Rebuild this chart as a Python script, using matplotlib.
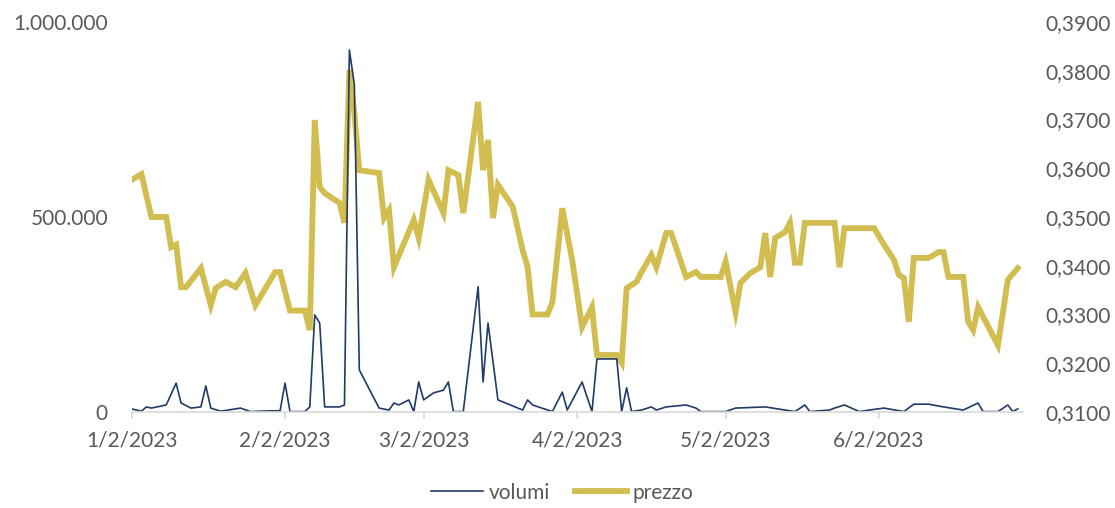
import pandas as pd
import matplotlib
matplotlib.use("Agg")
import matplotlib.pyplot as plt
from matplotlib.ticker import FuncFormatter, MultipleLocator

# -------------------------
# Data: daily price and traded volume (H1 2023)
# -------------------------
price_dates = [
    "2023-01-02", "2023-01-04", "2023-01-06", "2023-01-09", "2023-01-10", "2023-01-11",
    "2023-01-12", "2023-01-13", "2023-01-16", "2023-01-18", "2023-01-19", "2023-01-21",
    "2023-01-23", "2023-01-25", "2023-01-27", "2023-01-31", "2023-02-01", "2023-02-03",
    "2023-02-06", "2023-02-07", "2023-02-08", "2023-02-09", "2023-02-10", "2023-02-13",
    "2023-02-14", "2023-02-15", "2023-02-16", "2023-02-17", "2023-02-21", "2023-02-22",
    "2023-02-23", "2023-02-24", "2023-02-28", "2023-03-01", "2023-03-03", "2023-03-06",
    "2023-03-07", "2023-03-09", "2023-03-10", "2023-03-13", "2023-03-14", "2023-03-15",
    "2023-03-16", "2023-03-17", "2023-03-20", "2023-03-22", "2023-03-23", "2023-03-24",
    "2023-03-27", "2023-03-28", "2023-03-30", "2023-04-01", "2023-04-03", "2023-04-05",
    "2023-04-06", "2023-04-10", "2023-04-11", "2023-04-12", "2023-04-14", "2023-04-15",
    "2023-04-17", "2023-04-18", "2023-04-20", "2023-04-21", "2023-04-24", "2023-04-26",
    "2023-04-27", "2023-05-01", "2023-05-02", "2023-05-04", "2023-05-05", "2023-05-07",
    "2023-05-09", "2023-05-10", "2023-05-11", "2023-05-12", "2023-05-14", "2023-05-15",
    "2023-05-16", "2023-05-17", "2023-05-18", "2023-05-24", "2023-05-25", "2023-05-26",
    "2023-06-01", "2023-06-03", "2023-06-05", "2023-06-06", "2023-06-07", "2023-06-08",
    "2023-06-09", "2023-06-12", "2023-06-14", "2023-06-15", "2023-06-16", "2023-06-19",
    "2023-06-20", "2023-06-21", "2023-06-22", "2023-06-26", "2023-06-28", "2023-06-30",
]
prezzo = [
    0.3576, 0.3588, 0.3500, 0.3500, 0.3438, 0.3443,
    0.3356, 0.3356, 0.3395, 0.3319, 0.3354, 0.3367,
    0.3356, 0.3385, 0.3319, 0.3387, 0.3387, 0.3308,
    0.3308, 0.3268, 0.3699, 0.3562, 0.3549, 0.3529,
    0.3488, 0.3802, 0.3713, 0.3596, 0.3590, 0.3498,
    0.3514, 0.3397, 0.3494, 0.3457, 0.3576, 0.3508,
    0.3596, 0.3586, 0.3508, 0.3736, 0.3596, 0.3658,
    0.3498, 0.3566, 0.3521, 0.3432, 0.3397, 0.3300,
    0.3300, 0.3325, 0.3518, 0.3412, 0.3274, 0.3315,
    0.3217, 0.3217, 0.3201, 0.3354, 0.3367, 0.3387,
    0.3422, 0.3397, 0.3467, 0.3467, 0.3377, 0.3387,
    0.3377, 0.3377, 0.3408, 0.3305, 0.3365, 0.3385,
    0.3397, 0.3467, 0.3377, 0.3457, 0.3469, 0.3488,
    0.3406, 0.3406, 0.3488, 0.3488, 0.3397, 0.3477,
    0.3477, 0.3443, 0.3412, 0.3381, 0.3375, 0.3285,
    0.3416, 0.3416, 0.3428, 0.3428, 0.3377, 0.3377,
    0.3285, 0.3268, 0.3315, 0.3237, 0.3371, 0.3395,
]

volume_dates = [
    "2023-01-02", "2023-01-04", "2023-01-05", "2023-01-06", "2023-01-09", "2023-01-11",
    "2023-01-12", "2023-01-14", "2023-01-16", "2023-01-17", "2023-01-18", "2023-01-20",
    "2023-01-24", "2023-01-26", "2023-01-30", "2023-02-01", "2023-02-02", "2023-02-03",
    "2023-02-06", "2023-02-07", "2023-02-08", "2023-02-09", "2023-02-10", "2023-02-13",
    "2023-02-14", "2023-02-15", "2023-02-16", "2023-02-17", "2023-02-21", "2023-02-23",
    "2023-02-24", "2023-02-25", "2023-02-27", "2023-02-28", "2023-03-01", "2023-03-02",
    "2023-03-04", "2023-03-06", "2023-03-07", "2023-03-08", "2023-03-10", "2023-03-13",
    "2023-03-14", "2023-03-15", "2023-03-17", "2023-03-22", "2023-03-23", "2023-03-24",
    "2023-03-28", "2023-03-30", "2023-03-31", "2023-04-03", "2023-04-05", "2023-04-06",
    "2023-04-10", "2023-04-11", "2023-04-12", "2023-04-13", "2023-04-15", "2023-04-17",
    "2023-04-18", "2023-04-20", "2023-04-24", "2023-04-26", "2023-04-27", "2023-05-02",
    "2023-05-04", "2023-05-10", "2023-05-16", "2023-05-18", "2023-05-19", "2023-05-23",
    "2023-05-24", "2023-05-26", "2023-05-29", "2023-05-31", "2023-06-03", "2023-06-07",
    "2023-06-09", "2023-06-12", "2023-06-15", "2023-06-19", "2023-06-22", "2023-06-23",
    "2023-06-26", "2023-06-28", "2023-06-29", "2023-06-30",
]
volumi = [
    8000, 2000, 13000, 10000, 18000, 74000,
    23000, 10000, 13000, 67000, 10000, 2000,
    10000, 1000, 3000, 3000, 74000, 1000,
    1000, 13000, 249000, 228000, 13000, 13000,
    18000, 928000, 840000, 108000, 10000, 5000,
    23000, 18000, 31000, 1000, 77000, 31000,
    49000, 56000, 77000, 1000, 1000, 321000,
    77000, 228000, 31000, 5000, 31000, 18000,
    1000, 51000, 5000, 77000, 1000, 136000,
    136000, 1000, 62000, 1000, 5000, 13000,
    5000, 13000, 18000, 10000, 1000, 1000,
    10000, 13000, 1000, 18000, 1000, 5000,
    10000, 18000, 1000, 5000, 10000, 1000,
    20000, 20000, 13000, 5000, 23000, 1000,
    1000, 18000, 1000, 8000,
]

tick_dates = ["2023-01-02", "2023-02-02", "2023-03-02", "2023-04-02", "2023-05-02", "2023-06-02"]

# -------------------------
# Plot
# -------------------------
plt.rcParams['font.family'] = ['Lato', 'DejaVu Sans']
text_color = '#595959'
navy = '#1F3B66'
gold = '#D2BD50'

fig = plt.figure(figsize=(11.15, 5.08), dpi=100)
ax = fig.add_axes([0.118, 0.189, 0.7992, 0.7677])
ax2 = ax.twinx()

ax2.plot(pd.to_datetime(price_dates), prezzo, color=gold, lw=4.2,
         solid_joinstyle='miter', label='prezzo')
ax.plot(pd.to_datetime(volume_dates), volumi, color=navy, lw=1.2, label='volumi')

# volume line sits above the price line
ax.set_zorder(ax2.get_zorder() + 1)
ax.patch.set_visible(False)

ax.set_xlim(pd.Timestamp("2023-01-02"), pd.Timestamp("2023-07-01"))
ax.set_ylim(0, 1000000)
ax2.set_ylim(0.31, 0.39)

ax.set_yticks([0, 500000, 1000000])
ax.yaxis.set_major_formatter(FuncFormatter(lambda v, p: f"{int(v):,}".replace(",", ".")))
ax2.yaxis.set_major_locator(MultipleLocator(0.01))
ax2.yaxis.set_major_formatter(FuncFormatter(lambda v, p: f"{v:.4f}".replace(".", ",")))

ticks = pd.to_datetime(tick_dates)
ax.set_xticks(ticks)
ax.set_xticklabels([f"{t.month}/{t.day}/{t.year}" for t in ticks])

for a in (ax, ax2):
    for s in ('top', 'left', 'right', 'bottom'):
        a.spines[s].set_visible(False)
ax.spines['bottom'].set_visible(True)
ax.spines['bottom'].set_color('#D9D9D9')
ax.spines['bottom'].set_linewidth(1.2)

ax.tick_params(axis='x', colors='#D9D9D9', labelcolor=text_color, labelsize=15,
               length=5, width=1.2, pad=8)
ax.tick_params(axis='y', length=0, labelcolor=text_color, labelsize=15, pad=17)
ax2.tick_params(axis='y', length=0, labelcolor=text_color, labelsize=15, pad=16)

h1, l1 = ax.get_legend_handles_labels()
h2, l2 = ax2.get_legend_handles_labels()
fig.legend(h1 + h2, l1 + l2, loc='center', bbox_to_anchor=(0.504, 0.03), ncol=2,
           frameon=False, fontsize=15, handlelength=2.5, handletextpad=0.25,
           columnspacing=1.2, labelcolor=text_color)

plt.savefig("out.png", dpi=100)
